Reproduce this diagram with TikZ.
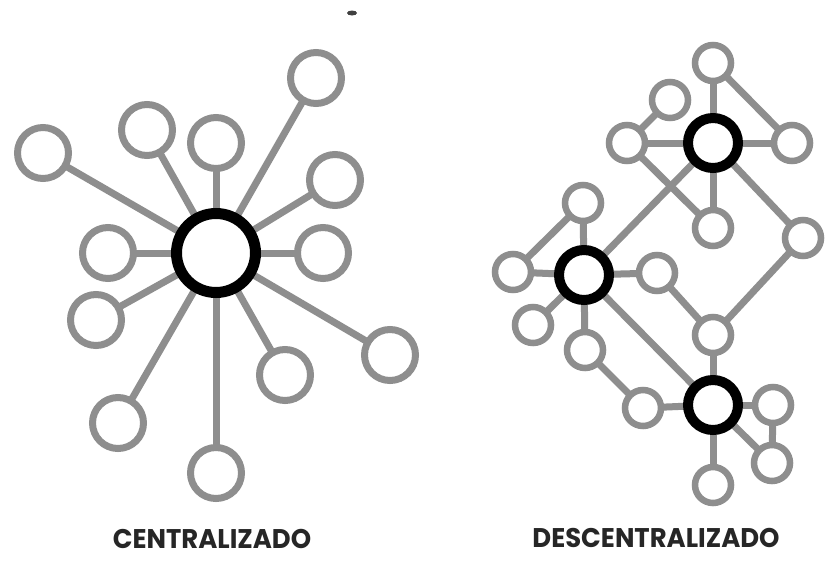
\documentclass[tikz,border=0pt]{standalone}
\usepackage{fontspec}
\newfontfamily\labelfont{Poppins}[FakeStretch=0.96]
\usetikzlibrary{backgrounds}
\definecolor{linkgray}{RGB}{142,142,142}
\tikzset{
  link/.style={draw=linkgray, line width=7pt},
  hub/.style={circle, draw=black, line width=11pt, fill=white, minimum size=79pt, inner sep=0pt},
  leaf/.style={circle, draw=linkgray, line width=7pt, fill=white, minimum size=51pt, inner sep=0pt},
  subhub/.style={circle, draw=black, line width=10pt, fill=white, minimum size=50pt, inner sep=0pt},
  smallleaf/.style={circle, draw=linkgray, line width=6.5pt, fill=white, minimum size=36pt, inner sep=0pt},
  caption/.style={font=\labelfont\bfseries\fontsize{27}{27}\selectfont, anchor=base, inner sep=0pt, text=black!85}
}
\begin{document}
\begin{tikzpicture}[x=1pt, y=-1pt]
  \useasboundingbox (0,0) rectangle (826,560);

  % centralised network: one hub with twelve leaves
  \node[hub] (c) at (216,253) {};
  \node[leaf] (l1)  at (43,153)  {};
  \node[leaf] (l2)  at (147,130) {};
  \node[leaf] (l3)  at (216,143) {};
  \node[leaf] (l4)  at (316,78)  {};
  \node[leaf] (l5)  at (335,180) {};
  \node[leaf] (l6)  at (323,253) {};
  \node[leaf] (l7)  at (390,355) {};
  \node[leaf] (l8)  at (285,375) {};
  \node[leaf] (l9)  at (216,473) {};
  \node[leaf] (l10) at (118,423) {};
  \node[leaf] (l11) at (96,320)  {};
  \node[leaf] (l12) at (108,253) {};

  % decentralised network: three hubs
  \node[subhub] (A) at (713,143) {};
  \node[subhub] (B) at (584,275) {};
  \node[subhub] (C) at (713,405) {};
  \node[smallleaf] (g1)  at (713,63)  {};
  \node[smallleaf] (g2)  at (670,100) {};
  \node[smallleaf] (g3)  at (627,143) {};
  \node[smallleaf] (g4)  at (792,143) {};
  \node[smallleaf] (g5)  at (713,228) {};
  \node[smallleaf] (g6)  at (803,238) {};
  \node[smallleaf] (g7)  at (583,203) {};
  \node[smallleaf] (g8)  at (513,272) {};
  \node[smallleaf] (g9)  at (657,273) {};
  \node[smallleaf] (g10) at (533,325) {};
  \node[smallleaf] (g11) at (585,350) {};
  \node[smallleaf] (g12) at (713,335) {};
  \node[smallleaf] (g13) at (643,408) {};
  \node[smallleaf] (g14) at (773,405) {};
  \node[smallleaf] (g15) at (772,463) {};
  \node[smallleaf] (g16) at (713,485) {};

  \begin{pgfonlayer}{background}
    \fill[white] (0,0) rectangle (826,560);
    % spokes of the central hub
    \foreach \n in {l1,l2,l3,l4,l5,l6,l7,l8,l9,l10,l11,l12}
      \draw[link] (c.center) -- (\n.center);
    % links of the decentralised mesh
    \foreach \a/\b in {A/g1, A/g3, A/g4, A/g5, g1/g4, g2/g3, g3/g5, A/B, A/g6,
                       g6/g12, B/g7, B/g8, g7/g8, B/g9, B/g10, B/g11, B/C,
                       g9/g12, g12/C, g11/g13, g13/C, C/g14, C/g15, g14/g15, C/g16}
      \draw[link] (\a.center) -- (\b.center);
  \end{pgfonlayer}

  % stray mark at the top edge
  \fill[black!75] (352,13) ellipse [x radius=5pt, y radius=2.5pt];

  % captions
  \node[caption] (t1) at (212,548) {CENTRALIZADO};
  \node[caption] (t2) at (656,547) {DESCENTRALIZADO};
\end{tikzpicture}
\end{document}
